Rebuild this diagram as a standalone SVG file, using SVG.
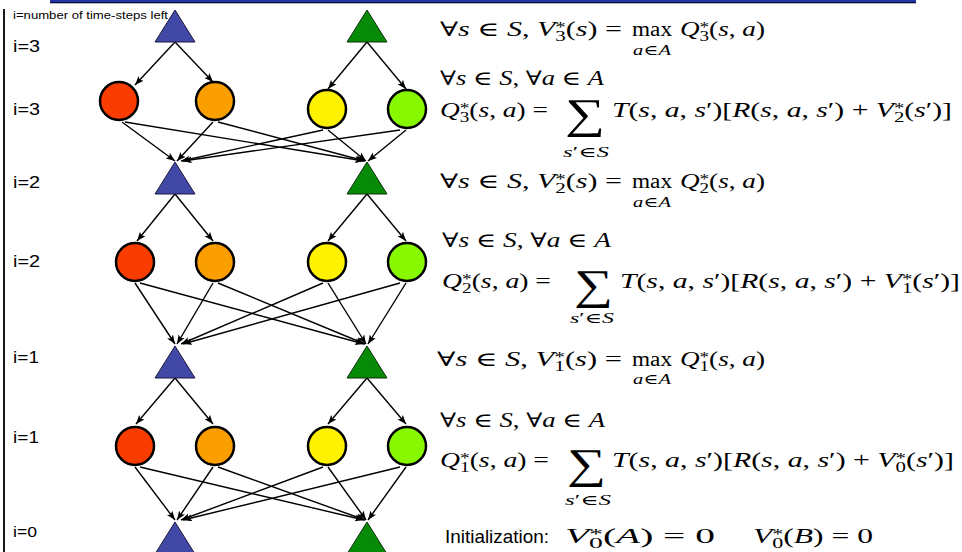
<svg xmlns="http://www.w3.org/2000/svg" width="962" height="552" viewBox="0 0 962 552">
<style>
.m{font-family:"Liberation Serif","DejaVu Serif",serif;font-size:20px;fill:#000}
.it{font-style:italic}
.sm{font-size:14px}
.lbl{font-family:"Liberation Sans",Arial,sans-serif;fill:#000}
.c{stroke:#000;stroke-width:2.5}
.tb{fill:#4148a6;stroke:#1a1a40;stroke-width:1}
.tg{fill:#078a07;stroke:#0a300a;stroke-width:1}
.e line{stroke:#000;stroke-width:1.4;marker-end:url(#ah)}
</style>
<defs>
<marker id="ah" markerWidth="10" markerHeight="8" refX="9" refY="4" orient="auto" markerUnits="userSpaceOnUse"><path d="M0,0.5 L9,4 L0,7.5 L2,4 z" fill="#000"/></marker>
</defs>
<rect width="962" height="552" fill="#fff"/>
<rect x="50" y="0" width="866" height="3" fill="#2236a8"/>
<rect x="50" y="2" width="866" height="1.3" fill="#0b0b35"/>
<line x1="4" y1="9" x2="4" y2="552" stroke="#000" stroke-width="1.8"/>

<g id="labels" class="lbl">
<text x="13" y="19" font-size="10.5" textLength="155" lengthAdjust="spacingAndGlyphs">i=number of time-steps left</text>
<text x="13" y="52" font-size="17" textLength="27" lengthAdjust="spacingAndGlyphs">i=3</text>
<text x="13" y="115" font-size="17" textLength="27" lengthAdjust="spacingAndGlyphs">i=3</text>
<text x="13" y="188" font-size="17" textLength="27" lengthAdjust="spacingAndGlyphs">i=2</text>
<text x="13" y="267" font-size="17" textLength="27" lengthAdjust="spacingAndGlyphs">i=2</text>
<text x="13" y="363" font-size="17" textLength="26" lengthAdjust="spacingAndGlyphs">i=1</text>
<text x="13" y="443" font-size="17" textLength="26" lengthAdjust="spacingAndGlyphs">i=1</text>
<text x="13" y="537" font-size="15" textLength="24" lengthAdjust="spacingAndGlyphs">i=0</text>
</g>

<g id="connectors" class="e">
<line x1="175" y1="42" x2="135" y2="85"/>
<line x1="175" y1="42" x2="213" y2="82"/>
<line x1="367" y1="42" x2="328" y2="89"/>
<line x1="367" y1="42" x2="406" y2="89"/>
<line x1="122" y1="122" x2="175" y2="161"/>
<line x1="125" y1="122" x2="364" y2="161"/>
<line x1="213" y1="122" x2="177" y2="161"/>
<line x1="218" y1="122" x2="365" y2="161"/>
<line x1="323" y1="130" x2="181" y2="161"/>
<line x1="328" y1="130" x2="366" y2="161"/>
<line x1="400" y1="130" x2="183" y2="161"/>
<line x1="406" y1="130" x2="368" y2="161"/>
<line x1="175" y1="194" x2="137" y2="241"/>
<line x1="175" y1="194" x2="213" y2="241"/>
<line x1="367" y1="194" x2="328" y2="241"/>
<line x1="367" y1="194" x2="406" y2="241"/>
<line x1="135" y1="283" x2="175" y2="344"/>
<line x1="140" y1="283" x2="364" y2="344"/>
<line x1="213" y1="283" x2="177" y2="344"/>
<line x1="218" y1="283" x2="365" y2="344"/>
<line x1="323" y1="283" x2="181" y2="344"/>
<line x1="328" y1="283" x2="366" y2="344"/>
<line x1="400" y1="283" x2="183" y2="344"/>
<line x1="406" y1="283" x2="368" y2="344"/>
<line x1="175" y1="378" x2="136" y2="424"/>
<line x1="175" y1="378" x2="213" y2="424"/>
<line x1="367" y1="378" x2="328" y2="424"/>
<line x1="367" y1="378" x2="406" y2="424"/>
<line x1="135" y1="467" x2="175" y2="520"/>
<line x1="140" y1="467" x2="364" y2="520"/>
<line x1="213" y1="467" x2="177" y2="520"/>
<line x1="218" y1="467" x2="365" y2="520"/>
<line x1="323" y1="467" x2="181" y2="520"/>
<line x1="328" y1="467" x2="366" y2="520"/>
<line x1="400" y1="467" x2="183" y2="520"/>
<line x1="406" y1="467" x2="368" y2="520"/>
</g>

<g id="A3"><polygon class="tb" points="175,10 155,42 195,42"/></g>
<g id="B3"><polygon class="tg" points="367,10 347,42 387,42"/></g>
<g id="A3a1"><circle class="c" cx="119" cy="101" r="19" fill="#fb3c00"/></g>
<g id="A3a2"><circle class="c" cx="215" cy="101" r="19" fill="#fb9e00"/></g>
<g id="B3a1"><circle class="c" cx="327" cy="109" r="19" fill="#fff200"/></g>
<g id="B3a2"><circle class="c" cx="407" cy="109" r="19" fill="#88f800"/></g>

<g id="A2"><polygon class="tb" points="175,162 155,194 195,194"/></g>
<g id="B2"><polygon class="tg" points="367,162 347,194 387,194"/></g>
<g id="A2a1"><circle class="c" cx="135" cy="262" r="19" fill="#fb3c00"/></g>
<g id="A2a2"><circle class="c" cx="215" cy="262" r="19" fill="#fb9e00"/></g>
<g id="B2a1"><circle class="c" cx="327" cy="262" r="19" fill="#fff200"/></g>
<g id="B2a2"><circle class="c" cx="407" cy="262" r="19" fill="#88f800"/></g>

<g id="A1"><polygon class="tb" points="175,346 155,378 195,378"/></g>
<g id="B1"><polygon class="tg" points="367,346 347,378 387,378"/></g>
<g id="A1a1"><circle class="c" cx="135" cy="446" r="19" fill="#fb3c00"/></g>
<g id="A1a2"><circle class="c" cx="215" cy="446" r="19" fill="#fb9e00"/></g>
<g id="B1a1"><circle class="c" cx="327" cy="446" r="19" fill="#fff200"/></g>
<g id="B1a2"><circle class="c" cx="407" cy="446" r="19" fill="#88f800"/></g>

<g id="A0"><polygon class="tb" points="175,522 155,554 195,554"/></g>
<g id="B0"><polygon class="tg" points="367,522 347,554 387,554"/></g>

<g id="eq-V3" class="m">
<text x="440" y="36" textLength="182" lengthAdjust="spacingAndGlyphs">∀<tspan class="it">s</tspan> ∈ <tspan class="it">S</tspan>, <tspan class="it">V</tspan><tspan class="sm" dy="-4">*</tspan><tspan class="sm" dx="-7" dy="9">3</tspan><tspan dy="-5">(</tspan><tspan class="it">s</tspan>) =</text>
<text x="632" y="36" textLength="40" lengthAdjust="spacingAndGlyphs">max</text>
<text x="633" y="55" class="sm" textLength="38" lengthAdjust="spacingAndGlyphs"><tspan class="it">a</tspan>∈<tspan class="it">A</tspan></text>
<text x="680" y="36" textLength="85" lengthAdjust="spacingAndGlyphs"><tspan class="it">Q</tspan><tspan class="sm" dy="-4">*</tspan><tspan class="sm" dx="-7" dy="9">3</tspan><tspan dy="-5">(</tspan><tspan class="it">s</tspan>, <tspan class="it">a</tspan>)</text>
</g>

<g id="eq-Q3" class="m">
<text x="440" y="85" textLength="164" lengthAdjust="spacingAndGlyphs">∀<tspan class="it">s</tspan> ∈ <tspan class="it">S</tspan>, ∀<tspan class="it">a</tspan> ∈ <tspan class="it">A</tspan></text>
<text x="440" y="117" textLength="108" lengthAdjust="spacingAndGlyphs"><tspan class="it">Q</tspan><tspan class="sm" dy="-4">*</tspan><tspan class="sm" dx="-7" dy="9">3</tspan><tspan dy="-5">(</tspan><tspan class="it">s</tspan>, <tspan class="it">a</tspan>) =</text>
<text x="565" y="128" font-size="42" textLength="40" lengthAdjust="spacingAndGlyphs">∑</text>
<text x="563" y="157" class="sm" textLength="46" lengthAdjust="spacingAndGlyphs"><tspan class="it">s</tspan>′∈<tspan class="it">S</tspan></text>
<text x="612" y="117" textLength="340" lengthAdjust="spacingAndGlyphs"><tspan class="it">T</tspan>(<tspan class="it">s</tspan>, <tspan class="it">a</tspan>, <tspan class="it">s</tspan>′)[<tspan class="it">R</tspan>(<tspan class="it">s</tspan>, <tspan class="it">a</tspan>, <tspan class="it">s</tspan>′) + <tspan class="it">V</tspan><tspan class="sm" dy="-4">*</tspan><tspan class="sm" dx="-7" dy="9">2</tspan><tspan dy="-5">(</tspan><tspan class="it">s</tspan>′)]</text>
</g>

<g id="eq-V2" class="m">
<text x="440" y="188" textLength="182" lengthAdjust="spacingAndGlyphs">∀<tspan class="it">s</tspan> ∈ <tspan class="it">S</tspan>, <tspan class="it">V</tspan><tspan class="sm" dy="-4">*</tspan><tspan class="sm" dx="-7" dy="9">2</tspan><tspan dy="-5">(</tspan><tspan class="it">s</tspan>) =</text>
<text x="632" y="188" textLength="40" lengthAdjust="spacingAndGlyphs">max</text>
<text x="633" y="207" class="sm" textLength="38" lengthAdjust="spacingAndGlyphs"><tspan class="it">a</tspan>∈<tspan class="it">A</tspan></text>
<text x="680" y="188" textLength="85" lengthAdjust="spacingAndGlyphs"><tspan class="it">Q</tspan><tspan class="sm" dy="-4">*</tspan><tspan class="sm" dx="-7" dy="9">2</tspan><tspan dy="-5">(</tspan><tspan class="it">s</tspan>, <tspan class="it">a</tspan>)</text>
</g>

<g id="eq-Q2" class="m">
<text x="442" y="247" textLength="169" lengthAdjust="spacingAndGlyphs">∀<tspan class="it">s</tspan> ∈ <tspan class="it">S</tspan>, ∀<tspan class="it">a</tspan> ∈ <tspan class="it">A</tspan></text>
<text x="442" y="288" textLength="109" lengthAdjust="spacingAndGlyphs"><tspan class="it">Q</tspan><tspan class="sm" dy="-4">*</tspan><tspan class="sm" dx="-7" dy="9">2</tspan><tspan dy="-5">(</tspan><tspan class="it">s</tspan>, <tspan class="it">a</tspan>) =</text>
<text x="574" y="299" font-size="42" textLength="39" lengthAdjust="spacingAndGlyphs">∑</text>
<text x="570" y="323" class="sm" textLength="44" lengthAdjust="spacingAndGlyphs"><tspan class="it">s</tspan>′∈<tspan class="it">S</tspan></text>
<text x="620" y="288" textLength="340" lengthAdjust="spacingAndGlyphs"><tspan class="it">T</tspan>(<tspan class="it">s</tspan>, <tspan class="it">a</tspan>, <tspan class="it">s</tspan>′)[<tspan class="it">R</tspan>(<tspan class="it">s</tspan>, <tspan class="it">a</tspan>, <tspan class="it">s</tspan>′) + <tspan class="it">V</tspan><tspan class="sm" dy="-4">*</tspan><tspan class="sm" dx="-7" dy="9">1</tspan><tspan dy="-5">(</tspan><tspan class="it">s</tspan>′)]</text>
</g>

<g id="eq-V1" class="m">
<text x="437" y="366" textLength="185" lengthAdjust="spacingAndGlyphs">∀<tspan class="it">s</tspan> ∈ <tspan class="it">S</tspan>, <tspan class="it">V</tspan><tspan class="sm" dy="-4">*</tspan><tspan class="sm" dx="-7" dy="9">1</tspan><tspan dy="-5">(</tspan><tspan class="it">s</tspan>) =</text>
<text x="632" y="366" textLength="40" lengthAdjust="spacingAndGlyphs">max</text>
<text x="633" y="384" class="sm" textLength="38" lengthAdjust="spacingAndGlyphs"><tspan class="it">a</tspan>∈<tspan class="it">A</tspan></text>
<text x="680" y="366" textLength="85" lengthAdjust="spacingAndGlyphs"><tspan class="it">Q</tspan><tspan class="sm" dy="-4">*</tspan><tspan class="sm" dx="-7" dy="9">1</tspan><tspan dy="-5">(</tspan><tspan class="it">s</tspan>, <tspan class="it">a</tspan>)</text>
</g>

<g id="eq-Q1" class="m">
<text x="440" y="427" textLength="165" lengthAdjust="spacingAndGlyphs">∀<tspan class="it">s</tspan> ∈ <tspan class="it">S</tspan>, ∀<tspan class="it">a</tspan> ∈ <tspan class="it">A</tspan></text>
<text x="440" y="467" textLength="109" lengthAdjust="spacingAndGlyphs"><tspan class="it">Q</tspan><tspan class="sm" dy="-4">*</tspan><tspan class="sm" dx="-7" dy="9">1</tspan><tspan dy="-5">(</tspan><tspan class="it">s</tspan>, <tspan class="it">a</tspan>) =</text>
<text x="567" y="478" font-size="42" textLength="39" lengthAdjust="spacingAndGlyphs">∑</text>
<text x="565" y="505" class="sm" textLength="46" lengthAdjust="spacingAndGlyphs"><tspan class="it">s</tspan>′∈<tspan class="it">S</tspan></text>
<text x="612" y="467" textLength="342" lengthAdjust="spacingAndGlyphs"><tspan class="it">T</tspan>(<tspan class="it">s</tspan>, <tspan class="it">a</tspan>, <tspan class="it">s</tspan>′)[<tspan class="it">R</tspan>(<tspan class="it">s</tspan>, <tspan class="it">a</tspan>, <tspan class="it">s</tspan>′) + <tspan class="it">V</tspan><tspan class="sm" dy="-4">*</tspan><tspan class="sm" dx="-7" dy="9">0</tspan><tspan dy="-5">(</tspan><tspan class="it">s</tspan>′)]</text>
</g>

<g id="init">
<text x="445" y="543" class="lbl" font-size="19" textLength="104" lengthAdjust="spacingAndGlyphs">Initialization:</text>
<text x="565" y="543" class="m" textLength="150" lengthAdjust="spacingAndGlyphs"><tspan class="it">V</tspan><tspan class="sm" dy="-4">*</tspan><tspan class="sm" dx="-7" dy="9">0</tspan><tspan dy="-5">(</tspan><tspan class="it">A</tspan>) = 0</text>
<text x="753" y="543" class="m" textLength="120" lengthAdjust="spacingAndGlyphs"><tspan class="it">V</tspan><tspan class="sm" dy="-4">*</tspan><tspan class="sm" dx="-7" dy="9">0</tspan><tspan dy="-5">(</tspan><tspan class="it">B</tspan>) = 0</text>
</g>
</svg>
